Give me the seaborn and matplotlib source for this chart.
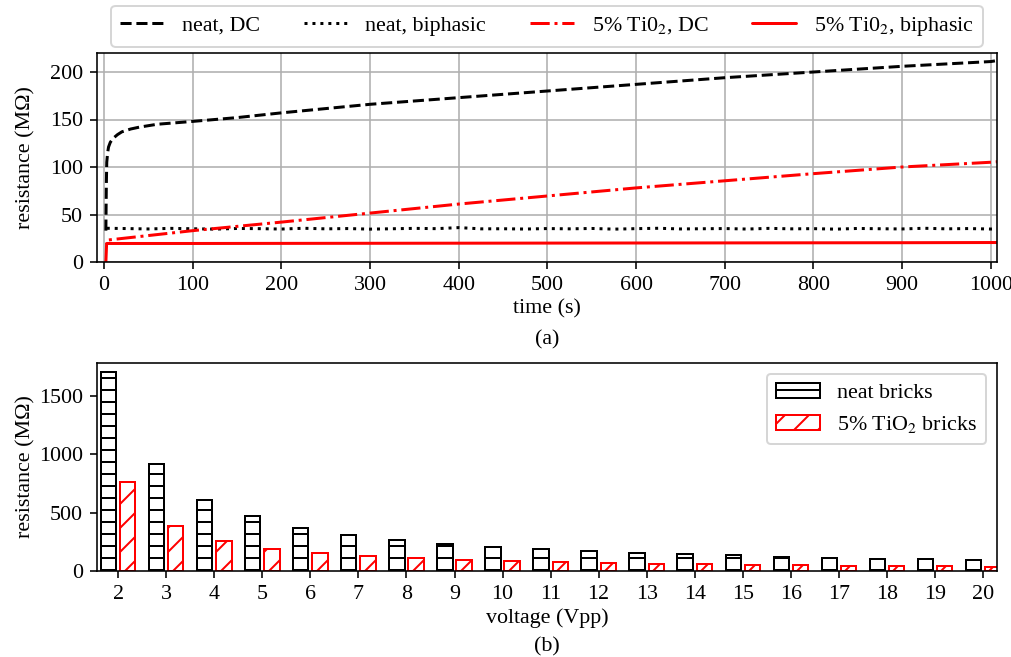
import matplotlib
matplotlib.use("Agg")
import matplotlib.pyplot as plt
import pandas as pd
import seaborn as sns

# ---- (a) resistance vs. time, MOhm ----
t_neat_dc = [2, 2.5, 3, 4, 5, 7, 10, 15, 20, 30, 40, 60, 100, 150, 200, 300,
             400, 500, 600, 700, 800, 900, 1000, 1007]
r_neat_dc = [33, 80, 105, 115, 121, 126, 130, 134, 137, 140, 142, 145, 148, 152,
             157, 166, 173, 180, 187, 194, 200, 206, 211, 212]

t_neat_bi = [3, 25, 50, 75, 100, 125, 150, 175, 200, 225, 250, 275, 300, 325,
             350, 375, 400, 425, 450, 475, 500, 525, 550, 575, 600, 625, 650,
             675, 700, 725, 750, 775, 800, 825, 850, 875, 900, 925, 950, 975,
             1000, 1007]
r_neat_bi = [35.5, 35.2, 34.8, 35.4, 35.0, 34.6, 35.3, 35.1, 34.7, 35.5, 34.9,
             35.2, 34.6, 35.0, 35.4, 35.1, 36.2, 34.9, 35.0, 34.7, 35.2, 34.9,
             35.3, 34.6, 35.1, 35.5, 34.8, 35.0, 35.2, 34.7, 35.4, 34.9, 35.1,
             34.6, 35.3, 35.0, 34.8, 35.5, 34.9, 35.2, 34.7, 35.0]

t_tio2_dc = [2, 3, 100, 200, 300, 400, 500, 600, 700, 800, 900, 1000, 1007]
r_tio2_dc = [0, 23, 33, 42, 51.5, 61, 69.5, 78, 85.5, 93, 100, 105, 105.5]

t_tio2_bi = [3, 100, 200, 300, 400, 500, 600, 700, 800, 900, 1000, 1007]
r_tio2_bi = [19.5, 19.5, 19.6, 19.7, 19.8, 19.9, 20.0, 20.1, 20.2, 20.3, 20.5, 20.5]

# ---- (b) resistance vs. drive voltage, MOhm ----
voltages = [2, 3, 4, 5, 6, 7, 8, 9, 10, 11, 12, 13, 14, 15, 16, 17, 18, 19, 20]
r_neat = [1705, 919, 611, 468, 371, 311, 268, 234, 206, 186, 169, 157, 143, 134,
          123, 114, 106, 100, 94]
r_tio2 = [760, 386, 254, 191, 154, 126, 109, 94, 83, 74, 71, 63, 57, 54, 49, 43,
          43, 40, 37]
bar_labels = ["neat bricks", "5% TiO$_2$ bricks"]

sns.set_style("ticks", {"axes.edgecolor": "black", "xtick.color": "black",
                        "ytick.color": "black", "text.color": "black",
                        "axes.labelcolor": "black"})
plt.rcParams["font.family"] = ["Liberation Serif", "DejaVu Serif"]
plt.rcParams["mathtext.fontset"] = "stix"
plt.rcParams["font.size"] = 11
plt.rcParams["hatch.linewidth"] = 1.0

fig = plt.figure(figsize=(1011 / 144, 657 / 144), dpi=144)
W, H = 1011, 657
ax1 = fig.add_axes([97 / W, 1 - 262 / H, 900 / W, 209 / H])
ax2 = fig.add_axes([97 / W, 1 - 571 / H, 900 / W, 208 / H])

# top panel
sns.lineplot(x=t_neat_dc, y=r_neat_dc, ax=ax1, color="black", linestyle="--",
             lw=1.5, label="neat, DC")
sns.lineplot(x=t_neat_bi, y=r_neat_bi, ax=ax1, color="black", linestyle=":",
             lw=1.5, label="neat, biphasic")
sns.lineplot(x=t_tio2_dc, y=r_tio2_dc, ax=ax1, color="red", linestyle="-.",
             lw=1.5, label="5% Ti0$_2$, DC")
sns.lineplot(x=t_tio2_bi, y=r_tio2_bi, ax=ax1, color="red", linestyle="-",
             lw=1.5, label="5% Ti0$_2$, biphasic")
ax1.set_xlim(-8, 1007)
ax1.set_ylim(0, 220)
ax1.set_xticks(range(0, 1001, 100))
ax1.set_yticks(range(0, 201, 50))
ax1.grid(True, color="#b0b0b0", lw=0.8)
ax1.set_axisbelow(True)
ax1.set_xlabel("time (s)", fontsize=11, labelpad=2)
ax1.set_ylabel("resistance (M\u03a9)", fontsize=11)
ax1.yaxis.set_label_coords(-0.068, 0.5)
ax1.tick_params(labelsize=11)
ax1.legend(loc="lower center", bbox_to_anchor=(0.5, 1.01), ncol=4,
           fontsize=11, frameon=True, borderaxespad=0.2)
fig.text(0.5 * (97 + 997) / W, 1 - 340 / H, "(a)", ha="center", va="center",
         fontsize=11)

# bottom panel
df = pd.DataFrame({
    "voltage": voltages * 2,
    "resistance": r_neat + r_tio2,
    "sample": [bar_labels[0]] * len(voltages) + [bar_labels[1]] * len(voltages),
})
sns.barplot(data=df, x="voltage", y="resistance", hue="sample",
            hue_order=bar_labels, palette=["black", "red"], fill=False,
            linewidth=1.0, width=0.8, gap=0.2, errorbar=None, legend=False,
            ax=ax2)
for cont, hatch, col in zip(ax2.containers, ["--", "//"], ["black", "red"]):
    for bar in cont:
        bar.set_hatch(hatch)
        bar.set_edgecolor(col)
        bar.set_facecolor("none")
        if hasattr(bar, "set_hatchcolor"):
            bar.set_hatchcolor(col)
ax2.legend(ax2.containers, bar_labels, loc="upper right", fontsize=11,
           frameon=True)
ax2.set_xlim(-0.44, 18.29)
ax2.set_ylim(0, 1785)
ax2.set_yticks([0, 500, 1000, 1500])
ax2.set_xlabel("voltage (Vpp)", fontsize=11, labelpad=2)
ax2.set_ylabel("resistance (M\u03a9)", fontsize=11)
ax2.yaxis.set_label_coords(-0.068, 0.5)
ax2.tick_params(labelsize=11)
fig.text(0.5 * (97 + 997) / W, 1 - 647 / H, "(b)", ha="center", va="center",
         fontsize=11)

fig.savefig("out.png", dpi=144)
